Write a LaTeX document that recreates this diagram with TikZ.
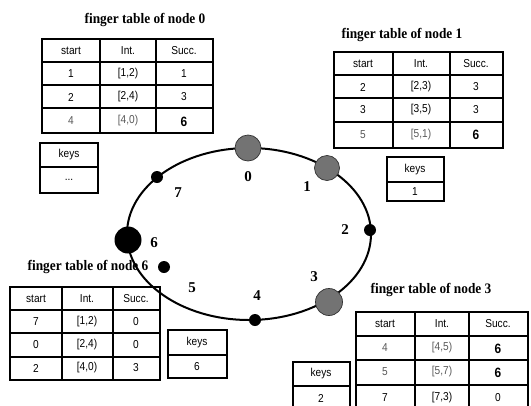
\documentclass[tikz,border=0pt]{standalone}
\usepackage{fontspec}
\setmainfont{Liberation Serif}
\newfontfamily\tabfont[FakeStretch=0.88]{Liberation Sans}
\newfontfamily\titlefont[FakeStretch=0.92]{Liberation Serif}
\begin{document}
\begin{tikzpicture}[x=1pt,y=-1pt,
  grid/.style={draw=black,line width=1.1pt},
  celltext/.style={inner sep=0pt,font=\tabfont\fontsize{11.5}{12}\selectfont},
  faint/.style={celltext,text=black!65},
  bigsucc/.style={inner sep=0pt,font=\tabfont\bfseries\fontsize{13.5}{14}\selectfont},
  tabletitle/.style={inner sep=0pt,font=\titlefont\bfseries\fontsize{14.5}{15}\selectfont},
  ringlabel/.style={inner sep=0pt,font=\bfseries\fontsize{15}{15}\selectfont},
  peer/.style={circle,draw=black!80,line width=0.7pt,fill=black!55,minimum size=26pt,inner sep=0pt},
  slot/.style={circle,fill=black,minimum size=12pt,inner sep=0pt},
  bigslot/.style={circle,fill=black,minimum size=27pt,inner sep=0pt},
  ring/.style={draw=black,line width=2pt}]

\clip (0,0) rectangle (531,405);
\fill[white] (0,0) rectangle (531,405);

% ---------- identifier circle ----------
\draw[ring] (249,234) ellipse [x radius=122, y radius=86];

\node[peer]    (n0) at (248,148) {};
\node[peer,minimum size=25pt] (n1) at (327,168) {};
\node[slot]    (n2) at (370,230) {};
\node[peer,minimum size=27pt] (n3) at (329,302) {};
\node[slot]    (n4) at (255,320) {};
\node[slot]    (n5) at (164,267) {};
\node[bigslot] (n6) at (128,240) {};
\node[slot]    (n7) at (157,177) {};

\node[ringlabel] (l0) at (248,177) {0};
\node[ringlabel] (l1) at (307,187) {1};
\node[ringlabel] (l2) at (345,230) {2};
\node[ringlabel] (l3) at (314,277) {3};
\node[ringlabel] (l4) at (257,296) {4};
\node[ringlabel] (l5) at (192,288) {5};
\node[ringlabel] (l6) at (154,243) {6};
\node[ringlabel] (l7) at (178,193) {7};

% ---------- finger table of node 0 ----------
\node[tabletitle] (t0) at (145,20) {finger table of node 0};
\draw[grid] (42,39) rectangle (213,133);
\foreach \x in {100,156} \draw[grid] (\x,39) -- (\x,133);
\foreach \y in {62,85,108} \draw[grid] (42,\y) -- (213,\y);
\node[celltext] (a00) at (71,51) {start};
\node[celltext] (a01) at (128,51) {Int.};
\node[celltext] (a02) at (184,51) {Succ.};
\node[celltext] (a10) at (71,74) {1};
\node[celltext] (a11) at (128,74) {[1,2)};
\node[celltext] (a12) at (184,74) {1};
\node[celltext] (a20) at (71,97) {2};
\node[celltext] (a21) at (128,97) {[2,4)};
\node[celltext] (a22) at (184,97) {3};
\node[faint]    (a30) at (71,121) {4};
\node[faint]    (a31) at (128,121) {[4,0)};
\node[bigsucc]  (a32) at (184,122) {6};
\draw[grid] (40,143) rectangle (98,193);
\draw[grid] (40,167) -- (98,167);
\node[celltext] (k0a) at (69,155) {keys};
\node[celltext] (k0b) at (69,180) {...};

% ---------- finger table of node 1 ----------
\node[tabletitle] (t1) at (402,35) {finger table of node 1};
\draw[grid] (334,52) rectangle (503,148);
\foreach \x in {393,450} \draw[grid] (\x,52) -- (\x,148);
\foreach \y in {75,98,122} \draw[grid] (334,\y) -- (503,\y);
\node[celltext] (b00) at (363,64) {start};
\node[celltext] (b01) at (421,64) {Int.};
\node[celltext] (b02) at (476,64) {Succ.};
\node[celltext] (b10) at (363,87) {2};
\node[celltext] (b11) at (421,87) {[2,3)};
\node[celltext] (b12) at (476,87) {3};
\node[celltext] (b20) at (363,110) {3};
\node[celltext] (b21) at (421,110) {[3,5)};
\node[celltext] (b22) at (476,110) {3};
\node[faint]    (b30) at (363,135) {5};
\node[faint]    (b31) at (421,135) {[5,1)};
\node[bigsucc]  (b32) at (476,135) {6};
\draw[grid] (387,157) rectangle (444,201);
\draw[grid] (387,182) -- (444,182);
\node[celltext] (k1a) at (415,170) {keys};
\node[celltext] (k1b) at (415,192) {1};

% ---------- finger table of node 6 ----------
\node[tabletitle] (t6) at (88,267) {finger table of node 6};
\draw[grid] (10,287) rectangle (160,380);
\foreach \x in {62,113} \draw[grid] (\x,287) -- (\x,380);
\foreach \y in {310,333,357} \draw[grid] (10,\y) -- (160,\y);
\node[celltext] (c00) at (36,299) {start};
\node[celltext] (c01) at (87,299) {Int.};
\node[celltext] (c02) at (136,299) {Succ.};
\node[celltext] (c10) at (36,322) {7};
\node[celltext] (c11) at (87,322) {[1,2)};
\node[celltext] (c12) at (136,322) {0};
\node[celltext] (c20) at (36,345) {0};
\node[celltext] (c21) at (87,345) {[2,4)};
\node[celltext] (c22) at (136,345) {0};
\node[celltext] (c30) at (36,368) {2};
\node[celltext] (c31) at (87,368) {[4,0)};
\node[celltext] (c32) at (136,368) {3};
\draw[grid] (168,330) rectangle (227,378);
\draw[grid] (168,355) -- (227,355);
\node[celltext] (k6a) at (197,343) {keys};
\node[celltext] (k6b) at (197,367) {6};

% ---------- finger table of node 3 ----------
\node[tabletitle] (t3) at (431,290) {finger table of node 3};
\draw[grid] (356,312) rectangle (528,410);
\foreach \x in {415,469} \draw[grid] (\x,312) -- (\x,410);
\foreach \y in {336,360,385} \draw[grid] (356,\y) -- (528,\y);
\node[celltext] (d00) at (385,324) {start};
\node[celltext] (d01) at (442,324) {Int.};
\node[celltext] (d02) at (498,324) {Succ.};
\node[faint]    (d10) at (385,348) {4};
\node[faint]    (d11) at (442,348) {[4,5)};
\node[bigsucc]  (d12) at (498,349) {6};
\node[faint]    (d20) at (385,372) {5};
\node[faint]    (d21) at (442,372) {[5,7)};
\node[bigsucc]  (d22) at (498,373) {6};
\node[celltext] (d30) at (385,398) {7};
\node[celltext] (d31) at (442,398) {[7,3)};
\node[celltext] (d32) at (498,398) {0};
\draw[grid] (293,362) rectangle (350,410);
\draw[grid] (293,386) -- (350,386);
\node[celltext] (k3a) at (321,374) {keys};
\node[celltext] (k3b) at (321,398) {2};

\end{tikzpicture}
\end{document}
